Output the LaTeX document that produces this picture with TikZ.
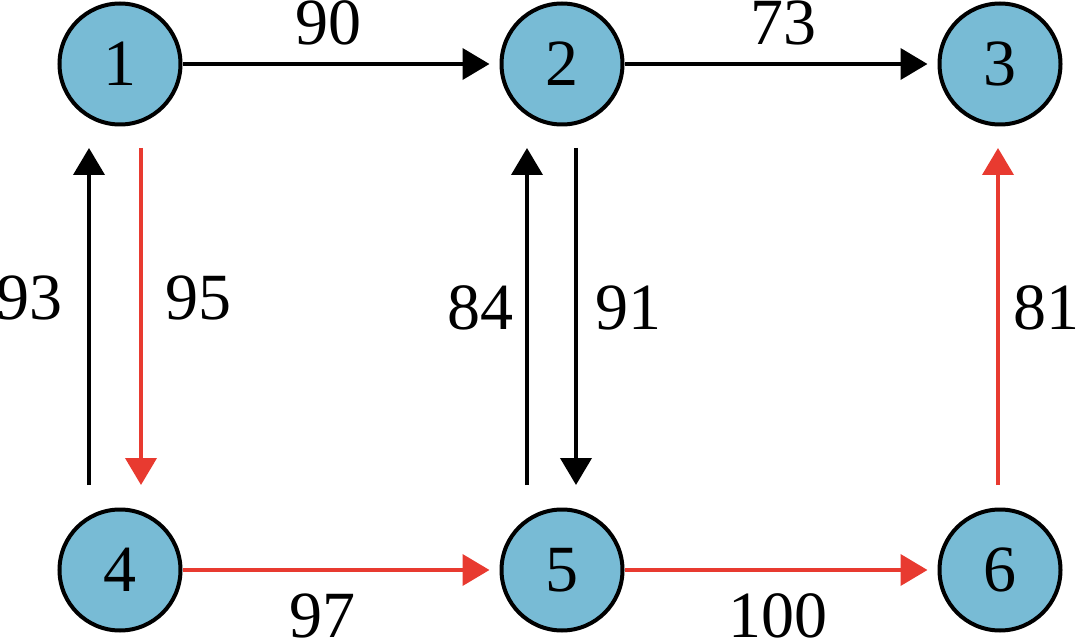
\documentclass[tikz,border=0pt]{standalone}
\usepackage{fontspec}
\setmainfont{Liberation Serif}
\usetikzlibrary{arrows.meta}
\definecolor{nodeblue}{RGB}{120,187,213}
\definecolor{arrred}{RGB}{232,58,48}
\begin{document}
\begin{tikzpicture}[x=1pt,y=1pt,
  vertex/.style={circle,draw=black,line width=4pt,fill=nodeblue,minimum size=121pt,inner sep=0pt,
    font=\fontsize{66pt}{66pt}\selectfont},
  lbl/.style={inner sep=0pt,font=\fontsize{66pt}{66pt}\selectfont},
  arr/.style={line width=4pt,-{Triangle[length=27pt,width=31pt]}},
  blk/.style={arr,draw=black},
  rd/.style={arr,draw=arrred}]
\useasboundingbox (0,0) rectangle (1077,641);
\node[vertex] (n1) at (120,577) {1};
\node[vertex] (n2) at (562,577) {2};
\node[vertex] (n3) at (1000,577) {3};
\node[vertex] (n4) at (120,71) {4};
\node[vertex] (n5) at (562,71) {5};
\node[vertex] (n6) at (1000,71) {6};
% horizontal
\draw[blk,shorten >=10pt] (n1) -- (n2);
\draw[blk,shorten >=10pt] (n2) -- (n3);
\draw[rd,shorten >=10pt] (n4) -- (n5);
\draw[rd,shorten >=10pt] (n5) -- (n6);
% vertical
\draw[blk,shorten <=22.5pt,shorten >=21.5pt] ([xshift=-31pt]n4.north) -- ([xshift=-31pt]n1.south);
\draw[rd,shorten <=21.5pt,shorten >=22.5pt] ([xshift=21pt]n1.south) -- ([xshift=21pt]n4.north);
\draw[blk,shorten <=22.5pt,shorten >=21.5pt] ([xshift=-35pt]n5.north) -- ([xshift=-35pt]n2.south);
\draw[blk,shorten <=21.5pt,shorten >=22.5pt] ([xshift=14pt]n2.south) -- ([xshift=14pt]n5.north);
\draw[rd,shorten <=22.5pt,shorten >=21.5pt] ([xshift=-2pt]n6.north) -- ([xshift=-2pt]n3.south);
% labels
\node[lbl] (l12) at (328,618) {90};
\node[lbl] (l23) at (783,618) {73};
\node[lbl] (l41) at (30,343) {93};
\node[lbl] (l14) at (198,343) {95};
\node[lbl] (l52) at (480,333) {84};
\node[lbl] (l25) at (628,333) {91};
\node[lbl] (l63) at (1046,333) {81};
\node[lbl] (l45) at (322,25) {97};
\node[lbl] (l56) at (778,25) {100};
\end{tikzpicture}
\end{document}
